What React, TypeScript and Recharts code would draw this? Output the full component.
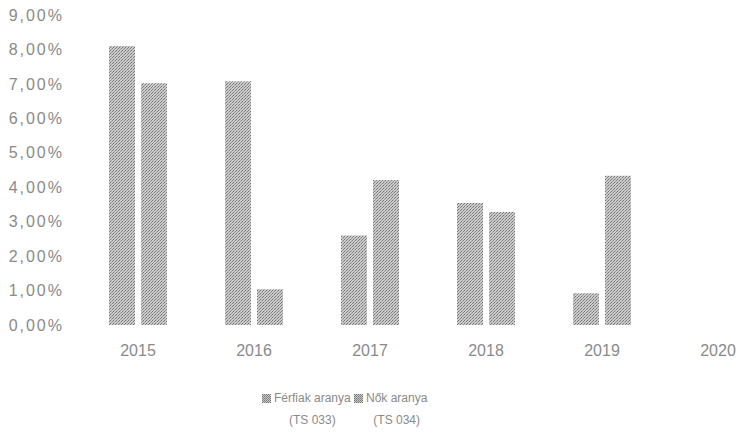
import React from "react";
import { Bar, BarChart, XAxis, YAxis } from "recharts";

// évek és arányok (%), leolvasva az ábráról
const years = ["2015", "2016", "2017", "2018", "2019", "2020"];
const ferfiak = [8.1, 7.08, 2.6, 3.54, 0.92, null];
const nok = [7.02, 1.04, 4.21, 3.28, 4.33, null];
const yTicks = [0, 1, 2, 3, 4, 5, 6, 7, 8, 9];
const seriesNames = [
  ["Férfiak aranya", "(TS 033)"],
  ["Nők aranya", "(TS 034)"],
];

const TEXT = "#8a8a8a";
const FONT = '"Liberation Sans", Arial, sans-serif';

const pct = (v: number) => `${v.toFixed(2).replace(".", ",")}%`;

// jelmagyarázat elemek bal széle (oldalhoz képest)
const legendLeft = [262, 354];

function Marker({ id }: { id: string }) {
  return (
    <svg width={9} height={9} style={{ display: "block" }}>
      <rect width={9} height={9} fill={`url(#${id})`} />
    </svg>
  );
}

export default function App() {
  const rows = years.map((y, i) => ({ year: y, ferfiak: ferfiak[i], nok: nok[i] }));

  return (
    <div
      style={{
        position: "fixed",
        left: 0,
        top: 0,
        width: 739,
        height: 434,
        overflow: "hidden",
        background: "#fff",
        fontFamily: FONT,
      }}
    >
      <div style={{ position: "absolute", left: 8, top: 8 }}>
        <BarChart
          width={768}
          height={362}
          data={rows}
          margin={{ top: 7, right: 0, left: 0, bottom: 0 }}
          barGap={6}
        >
          <defs>
            <pattern id="dither" width={3} height={3} patternUnits="userSpaceOnUse">
              <rect width={3} height={3} fill="#cbcbcb" />
              <rect x={0} y={0} width={1} height={1} fill="#737373" />
              <rect x={2} y={1} width={1} height={1} fill="#808080" />
              <rect x={1} y={2} width={1} height={1} fill="#9c9c9c" />
            </pattern>
          </defs>
          <XAxis
            dataKey="year"
            axisLine={false}
            tickLine={false}
            height={45}
            tickMargin={14}
            interval={0}
            tick={{ fill: TEXT, fontSize: 16, fontFamily: FONT }}
          />
          <YAxis
            domain={[0, 9]}
            ticks={yTicks}
            interval={0}
            axisLine={false}
            tickLine={false}
            width={72}
            tickMargin={10}
            tickFormatter={pct}
            tick={{ fill: TEXT, fontSize: 16, fontFamily: FONT, letterSpacing: 2 }}
          />
          <Bar dataKey="ferfiak" name="Férfiak aranya (TS 033)" fill="url(#dither)" barSize={26} isAnimationActive={false} />
          <Bar dataKey="nok" name="Nők aranya (TS 034)" fill="url(#dither)" barSize={26} isAnimationActive={false} />
        </BarChart>
      </div>

      <svg width={0} height={0} style={{ position: "absolute" }}>
        <defs>
          <pattern id="legdither" width={2} height={2} patternUnits="userSpaceOnUse">
            <rect width={2} height={2} fill="#c6c6c6" />
            <rect x={0} y={0} width={1} height={1} fill="#7a7a7a" />
            <rect x={1} y={1} width={1} height={1} fill="#8a8a8a" />
          </pattern>
        </defs>
      </svg>

      {/* jelmagyarázat két sorban, ahogy az eredetiben tördelődik */}
      {seriesNames.map((n, i) => (
        <div
          key={i}
          style={{
            position: "absolute",
            top: 387,
            left: legendLeft[i],
            display: "flex",
            alignItems: "flex-start",
            gap: 3,
            color: TEXT,
            fontSize: 12,
          }}
        >
          <div style={{ paddingTop: 7 }}>
            <Marker id="legdither" />
          </div>
          <div style={{ textAlign: "center", lineHeight: "22px" }}>
            <div>{n[0]}</div>
            <div>{n[1]}</div>
          </div>
        </div>
      ))}
    </div>
  );
}
